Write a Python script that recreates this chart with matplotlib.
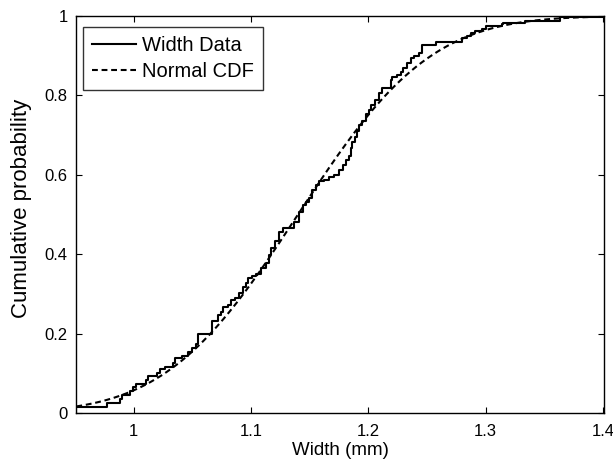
import math
import numpy as np
import matplotlib
matplotlib.use("Agg")
import matplotlib.pyplot as plt

ecdf_x = [0.951, 0.977, 0.988, 0.990, 0.997, 0.999, 1.002, 1.010, 1.012, 1.020,
          1.022, 1.027, 1.033, 1.035, 1.041, 1.046, 1.050, 1.053, 1.055, 1.067,
          1.0716, 1.0745, 1.076, 1.080, 1.083, 1.086, 1.090, 1.093, 1.0957, 1.097,
          1.101, 1.104, 1.1085, 1.113, 1.1155, 1.117, 1.120, 1.124, 1.127, 1.137,
          1.141, 1.144, 1.1467, 1.1495, 1.152, 1.155, 1.158, 1.162, 1.1665, 1.171,
          1.175, 1.178, 1.181, 1.1835, 1.185, 1.1864, 1.189, 1.1906, 1.192, 1.195,
          1.1977, 1.2005, 1.202, 1.206, 1.209, 1.212, 1.219, 1.220, 1.2246, 1.2275,
          1.230, 1.233, 1.236, 1.239, 1.243, 1.246, 1.258, 1.280, 1.284, 1.288,
          1.291, 1.297, 1.300, 1.314, 1.315, 1.334, 1.3634, 1.401]
ecdf_y = [0.015, 0.026, 0.035, 0.045, 0.055, 0.066, 0.074, 0.083, 0.092, 0.100,
          0.110, 0.117, 0.125, 0.138, 0.143, 0.154, 0.164, 0.175, 0.200, 0.232,
          0.247, 0.255, 0.268, 0.272, 0.285, 0.290, 0.302, 0.318, 0.327, 0.340,
          0.344, 0.350, 0.364, 0.377, 0.398, 0.415, 0.432, 0.457, 0.465, 0.482,
          0.507, 0.524, 0.532, 0.541, 0.562, 0.574, 0.584, 0.587, 0.595, 0.600,
          0.612, 0.625, 0.637, 0.648, 0.667, 0.683, 0.696, 0.711, 0.725, 0.735,
          0.752, 0.763, 0.776, 0.788, 0.805, 0.818, 0.839, 0.847, 0.851, 0.860,
          0.868, 0.881, 0.893, 0.898, 0.906, 0.927, 0.935, 0.944, 0.950, 0.956,
          0.962, 0.967, 0.975, 0.980, 0.983, 0.988, 0.998, 1.000]

# Fitted normal distribution parameters
norm_mu = 1.140
norm_sigma = 0.0887

x_ticks = [1.0, 1.1, 1.2, 1.3, 1.4]
x_ticklabels = ["1", "1.1", "1.2", "1.3", "1.4"]
y_ticks = [0, 0.2, 0.4, 0.6, 0.8, 1.0]
y_ticklabels = ["0", "0.2", "0.4", "0.6", "0.8", "1"]

plt.rcParams['font.family'] = ['Liberation Sans', 'DejaVu Sans']

fig = plt.figure(figsize=(6.13, 4.66), dpi=100)
ax = fig.add_axes([0.124, 0.1137, 0.8613, 0.852])

xmin, xmax = ecdf_x[0], ecdf_x[-1]
sx = [xmin] + ecdf_x
sy = [0.0] + ecdf_y
ax.step(sx, sy, where='post', color='black', lw=1.5, label='Width Data')

xx = np.linspace(xmin, xmax, 400)
cdf = [0.5 * (1 + math.erf((v - norm_mu) / (norm_sigma * math.sqrt(2)))) for v in xx]
ax.plot(xx, cdf, color='black', lw=1.5, linestyle=(0, (2.8, 1.8)), label='Normal CDF')

ax.set_xlim(xmin - 0.0003, xmax)
ax.set_ylim(0, 1)
ax.set_xticks(x_ticks)
ax.set_xticklabels(x_ticklabels)
ax.set_yticks(y_ticks)
ax.set_yticklabels(y_ticklabels)
ax.tick_params(direction='in', length=4, width=0.8, top=True, right=True,
               labelsize=12, colors='black')
ax.tick_params(axis='x', pad=8)
ax.tick_params(axis='y', pad=6)
for s in ax.spines.values():
    s.set_linewidth(1.0)

ax.set_xlabel('Width (mm)', fontsize=13.5, labelpad=2)
ax.set_ylabel('Cumulative probability', fontsize=16)
ax.yaxis.set_label_coords(-0.083, 0.516)

leg = ax.legend(loc='upper left', bbox_to_anchor=(0.0133, 0.972), fontsize=14.5,
                frameon=True, fancybox=False, edgecolor='black', borderaxespad=0,
                handlelength=2.2, handletextpad=0.3, labelspacing=0.33, borderpad=0.45)
leg.get_frame().set_linewidth(1.0)

fig.savefig('out.png', dpi=100)
